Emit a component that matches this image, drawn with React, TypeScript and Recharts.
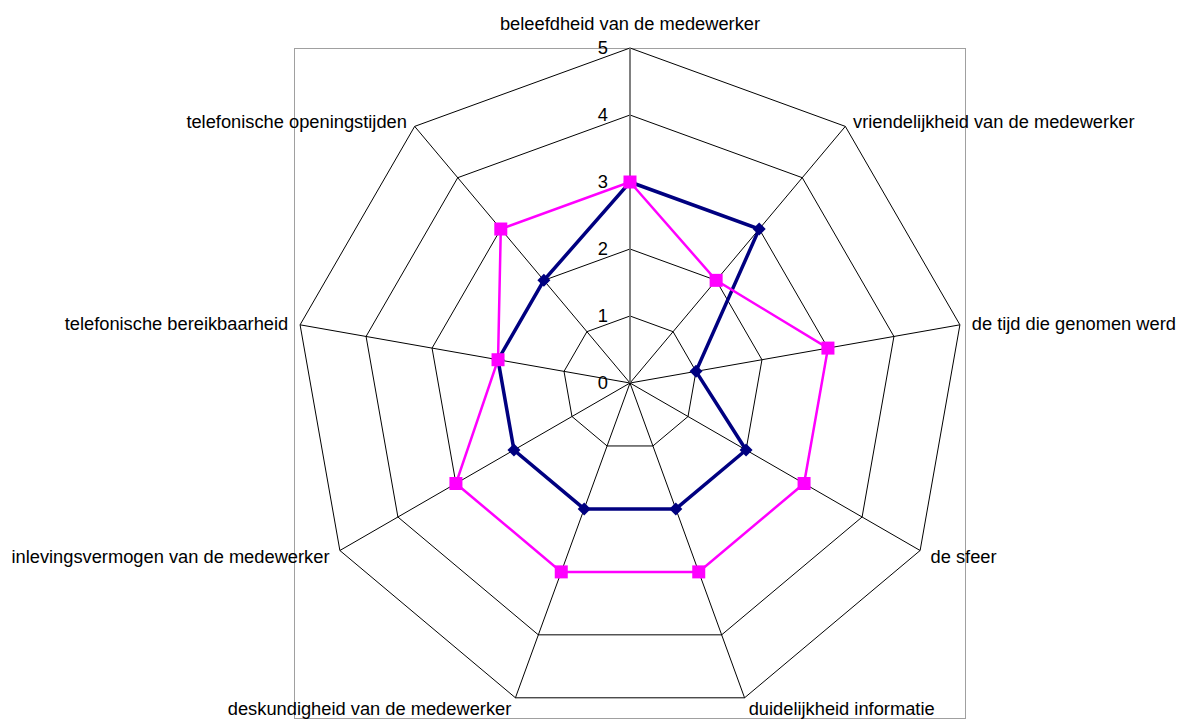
import { RadarChart, Radar, PolarGrid, PolarAngleAxis, PolarRadiusAxis } from 'recharts';

const categories = [
  'beleefdheid van de medewerker',
  'vriendelijkheid van de medewerker',
  'de tijd die genomen werd',
  'de sfeer',
  'duidelijkheid informatie',
  'deskundigheid van de medewerker',
  'inlevingsvermogen van de medewerker',
  'telefonische bereikbaarheid',
  'telefonische openingstijden',
];

const seriesNavy = [3, 3, 1, 2, 2, 2, 2, 2, 2];
const seriesPink = [3, 2, 3, 3, 3, 3, 3, 2, 3];

const radiusTicks = [0, 1, 2, 3, 4, 5];

const W = 1177;
const H = 720;
const CX = 630;
const CY = 383;
const R = 335;
const FONT = '"Liberation Sans", Arial, sans-serif';
const FS = 18.3;

const data = categories.map((name, i) => ({
  name,
  navy: seriesNavy[i],
  pink: seriesPink[i],
}));

const AngleTick = ({ payload }: any) => {
  const rad = (payload.coordinate * Math.PI) / 180;
  const cos = Math.cos(rad);
  const sin = Math.sin(rad);
  const x = CX + (R + 12) * cos;
  const vy = CY - R * sin;
  // labels above the centre sit a little higher, below a little lower
  let y = sin > 0 ? vy - 6 * sin : vy - 12 * sin;
  let anchor: 'start' | 'end' | 'middle' = 'middle';
  if (cos > 0.01) anchor = 'start';
  else if (cos < -0.01) anchor = 'end';
  else y = vy - 24;
  return (
    <text x={x} y={y} dy="0.35em" textAnchor={anchor} fontSize={FS} fontFamily={FONT} fill="#000">
      {payload.value}
    </text>
  );
};

const RadiusTick = ({ x, y, payload }: any) => (
  <text x={x - 22} y={y} dy="0.35em" textAnchor="end" fontSize={FS} fontFamily={FONT} fill="#000">
    {payload.value}
  </text>
);

const diamondDot = (props: any) => {
  const { cx, cy, index } = props;
  const s = 6.5;
  return (
    <polygon
      key={`d-${index}`}
      points={`${cx},${cy - s} ${cx + s},${cy} ${cx},${cy + s} ${cx - s},${cy}`}
      fill="#000080"
      stroke="none"
    />
  );
};

const squareDot = (props: any) => {
  const { cx, cy, index } = props;
  const s = 6.5;
  return <rect key={`s-${index}`} x={cx - s} y={cy - s} width={s * 2} height={s * 2} fill="#ff00ff" stroke="none" />;
};

export default function App() {
  return (
    <div style={{ position: 'absolute', left: 0, top: 0, width: W, height: H, background: '#fff' }}>
      {/* plot area frame */}
      <div
        style={{
          position: 'absolute',
          left: 294,
          top: 48,
          width: 672,
          height: 671,
          border: '1px solid #a0a0a0',
          boxSizing: 'border-box',
        }}
      />
      <div style={{ position: 'absolute', left: 0, top: 0 }}>
        <RadarChart
          width={W}
          height={H}
          data={data}
          cx={CX}
          cy={CY}
          outerRadius={R}
          margin={{ top: 0, right: 0, bottom: 0, left: 0 }}
        >
          <PolarGrid gridType="polygon" stroke="#000" strokeWidth={1} strokeOpacity={1} />
          <PolarAngleAxis dataKey="name" tick={<AngleTick />} tickLine={false} axisLine={false} />
          <PolarRadiusAxis
            angle={90}
            type="number"
            domain={[0, 5]}
            ticks={radiusTicks as any}
            tickCount={6}
            axisLine={{ stroke: '#808080', strokeWidth: 1.5 }}
            tick={<RadiusTick />}
          />
          <Radar
            name="Reeks1"
            dataKey="navy"
            stroke="#000080"
            strokeWidth={3.5}
            fill="none"
            fillOpacity={0}
            dot={diamondDot}
            isAnimationActive={false}
          />
          <Radar
            name="Reeks2"
            dataKey="pink"
            stroke="#ff00ff"
            strokeWidth={2.5}
            fill="none"
            fillOpacity={0}
            dot={squareDot}
            isAnimationActive={false}
          />
        </RadarChart>
      </div>
    </div>
  );
}
